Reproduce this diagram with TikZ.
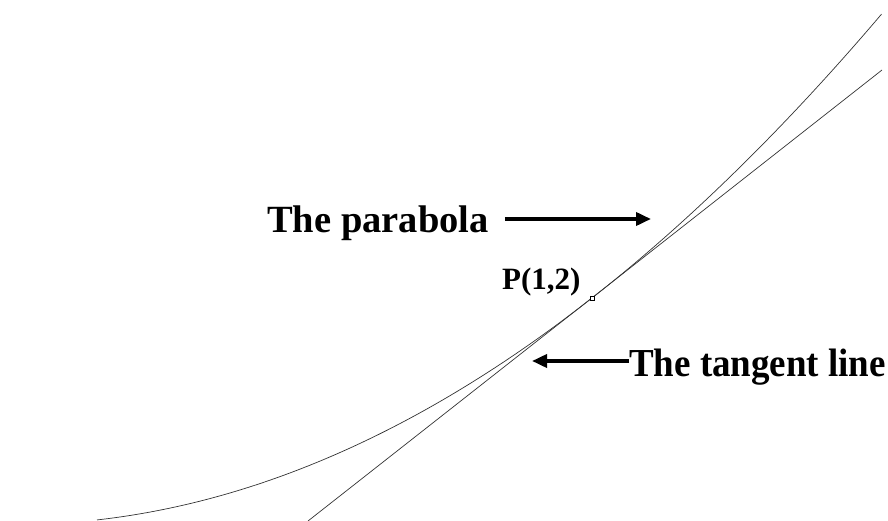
\documentclass[tikz,border=0pt]{standalone}
\usepackage{fontspec}
\setmainfont{Liberation Serif}
\usetikzlibrary{arrows.meta}
\begin{document}
\begin{tikzpicture}[x=1pt,y=-1pt,
  bigtext/.style={font=\fontsize{38.5}{40}\selectfont\bfseries, inner sep=0pt, anchor=base west},
  ptext/.style={font=\fontsize{31}{33}\selectfont\bfseries, inner sep=0pt, anchor=base west},
  callout/.style={line width=3.6pt, -{Triangle[length=15pt,width=13pt]}},
  curve/.style={line width=0.7pt, black!80}]
\useasboundingbox (0,0) rectangle (888,521);
% parabola
\draw[curve] plot[domain=-0.8564:0.5017, samples=150, smooth] ({592+578*\x},{298-226.6*(2*\x+\x*\x)});
% tangent line
\coordinate (t1) at (308,521);
\coordinate (t2) at (882,70);
\draw[curve] (t1) -- (t2);
% point P
\node[draw, line width=0.6pt, minimum size=4pt, inner sep=0pt, fill=white] (P) at (592,298) {};
% labels
\node[bigtext] (par) at (267,232.5) {The parabola};
\node[ptext] (pl) at (502,289.5) {P(1,2)};
\node[bigtext] (tan) at (629,376) {\scalebox{0.96}[1.03]{The tangent line}};
\coordinate (a1e) at (651,219);
\draw[callout] (par.base east) ++(16,-13.5) coordinate (a1s) -- (a1e);
\coordinate (a2e) at (532,361);
\draw[callout] (tan.base west) ++(0,-15) coordinate (a2s) -- (a2e);
\end{tikzpicture}
\end{document}
